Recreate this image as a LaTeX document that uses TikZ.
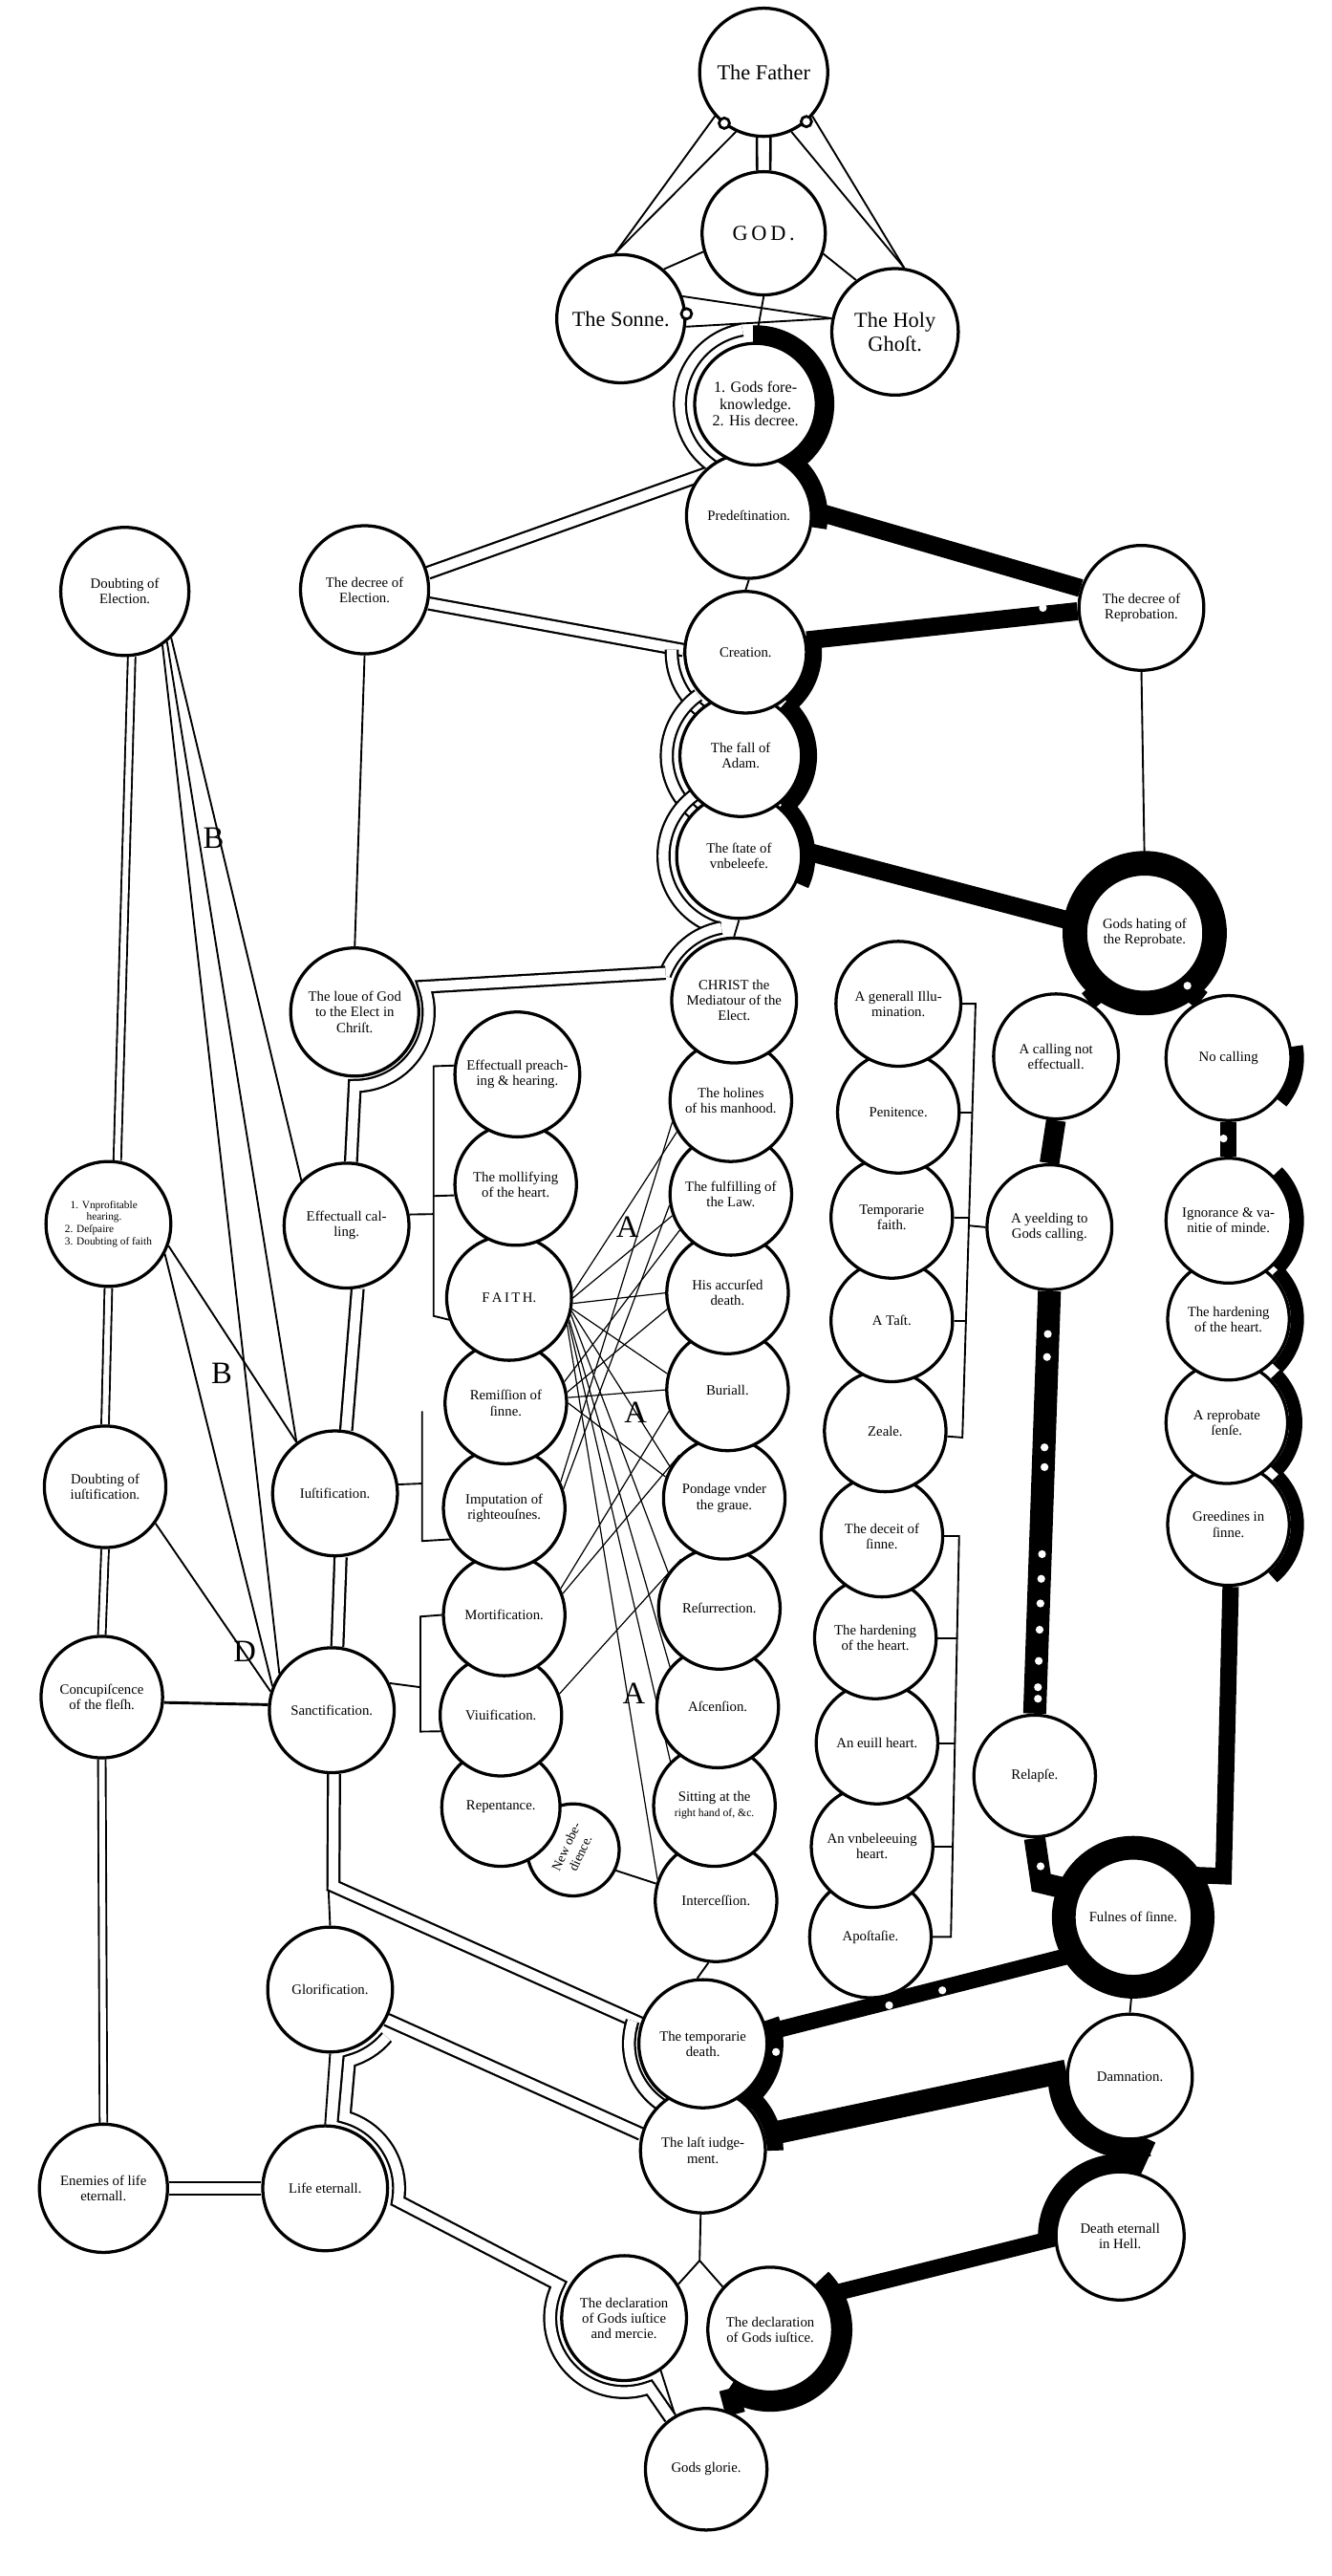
\documentclass[tikz,border=0pt]{standalone}
\usepackage{fontspec}
\setmainfont{Liberation Serif}
\usetikzlibrary{calc}
\pgfdeclarelayer{bg}
\pgfsetlayers{bg,main}
\newcommand{\ringarc}[5][]{\draw[#1] ($(#2.center)+(#3:#5)$) arc[start angle=#3,end angle=#4,radius=#5];}
\begin{document}
\begin{tikzpicture}[x=1pt,y=1pt,
  nd/.style={circle,draw,line width=1.9pt,fill=white,minimum size=#1,inner sep=0pt,align=center,font=\fontsize{8.6}{9.4}\selectfont},
  nd/.default=74pt,
  ln/.style={line width=1.1pt},
  web/.style={line width=0.7pt},
  hol/.style={line width=1.3pt,double=white,double distance=6pt},
  holt/.style={line width=1.1pt,double=white,double distance=3.5pt},
  blk/.style={line width=10pt},
  lab/.style={font=\fontsize{19}{19}\selectfont,inner sep=0pt},
  dot/.style={fill=white}]
\useasboundingbox (0,0) rectangle (811,-1568);

% ---------- nodes (lower ones first, so upper circles lie on top) ----------
\node[nd] (glorie) at (430,-1503) {Gods glorie.};
\node[nd=76pt] (declJ) at (469,-1418) {The declaration\\of Gods iuſtice.};
\node[nd=76pt] (declM) at (380,-1411) {The declaration\\of Gods iuſtice\\and mercie.};
\node[nd=78pt] (deathE) at (682,-1361) {Death eternall\\in Hell.};
\node[nd=78pt] (enem) at (63,-1332) {Enemies of life\\eternall.};
\node[nd=76pt] (life) at (198,-1332) {Life eternall.};
\node[nd=76pt] (ljudg) at (428,-1309) {The laſt iudge-\\ment.};
\node[nd=76pt] (damn) at (688,-1264) {Damnation.};
\node[nd=78pt] (tdeath) at (428,-1244) {The temporarie\\death.};
\node[nd=76pt] (glor) at (201,-1211) {Glorification.};
\node[nd] (apost) at (530,-1179) {Apoſtaſie.};
\node[nd=72pt] (fulnes) at (690,-1167) {Fulnes of ſinne.};
\node[nd] (inter) at (436,-1157) {Interceſſion.};
\node[nd=56pt,rotate=65,font=\fontsize{8}{9.5}\selectfont] (newob) at (349,-1126) {New obe-\\dience.};
\node[nd] (vnbel) at (531,-1124) {An vnbeleeuing\\heart.};
\node[nd=72pt] (repen) at (305,-1100) {Repentance.};
\node[nd] (sit) at (435,-1099) {Sitting at the\\{\fontsize{6.8}{7.5}\selectfont right hand of, \&c.}};
\node[nd] (relap) at (630,-1081) {Relapſe.};
\node[nd] (euill) at (534,-1061) {An euill heart.};
\node[nd] (viuif) at (305,-1044) {Viuification.};
\node[nd=76pt] (sanct) at (202,-1041) {Sanctification.};
\node[nd] (ascen) at (437,-1039) {Aſcenſion.};
\node[nd] (concup) at (62,-1033) {Concupiſcence\\of the fleſh.};
\node[nd] (hard2) at (533,-997) {The hardening\\of the heart.};
\node[nd] (mort) at (307,-983) {Mortification.};
\node[nd] (resur) at (438,-979) {Reſurrection.};
\node[nd] (deceit) at (537,-935) {The deceit of\\ſinne.};
\node[nd] (greed) at (748,-928) {Greedines in\\ſinne.};
\node[nd] (imput) at (307,-918) {Imputation of\\righteouſnes.};
\node[nd] (pond) at (441,-912) {Pondage vnder\\the graue.};
\node[nd=76pt] (iust) at (204,-909) {Iuſtification.};
\node[nd] (dJust) at (64,-905) {Doubting of\\iuſtification.};
\node[nd] (zeale) at (539,-871) {Zeale.};
\node[nd] (rsense) at (747,-866) {A reprobate\\ſenſe.};
\node[nd] (remis) at (308,-854) {Remiſſion of\\ſinne.};
\node[nd] (burial) at (443,-846) {Buriall.};
\node[nd] (tast) at (543,-804) {A Taſt.};
\node[nd] (hard1) at (748,-803) {The hardening\\of the heart.};
\node[nd=76pt] (faith) at (310,-790) {F\,A\,I\,T\,H.};
\node[nd] (death) at (443,-787) {His accurſed\\death.};
\node[nd=76pt] (ecall) at (211,-746) {Effectuall cal-\\ling.};
\node[nd=76pt,align=left,font=\fontsize{6.6}{7.4}\selectfont] (vnprof) at (66,-745) {\ \ 1. Vnprofitable\\\qquad hearing.\\ 2. Deſpaire\\ 3. Doubting of faith};
\node[nd=76pt] (yeeld) at (639,-747) {A yeelding to\\Gods calling.};
\node[nd=76pt] (ignor) at (748,-743) {Ignorance \& va-\\nitie of minde.};
\node[nd] (temp) at (543,-741) {Temporarie\\faith.};
\node[nd] (fulf) at (445,-727) {The fulfilling of\\the Law.};
\node[nd] (moll) at (314,-721) {The mollifying\\of the heart.};
\node[nd] (penit) at (547,-677) {Penitence.};
\node[nd] (holy) at (445,-670) {The holines\\of his manhood.};
\node[nd=76pt] (preach) at (315,-654) {Effectuall preach-\\ing \& hearing.};
\node[nd=76pt] (nocall) at (748,-644) {No calling};
\node[nd=76pt] (ncall) at (643,-643) {A calling not\\effectuall.};
\node[nd=78pt] (love) at (216,-616) {The loue of God\\to the Elect in\\Chriſt.};
\node[nd=76pt] (illum) at (547,-611) {A generall Illu-\\mination.};
\node[nd=76pt] (christ) at (447,-609) {CHRIST the\\Mediatour of the\\Elect.};
\node[nd=72pt] (hate) at (697,-568) {Gods hating of\\the Reprobate.};
\node[nd=76pt] (state) at (450,-521) {The ſtate of\\vnbeleefe.};
\node[nd] (fall) at (451,-460) {The fall of\\Adam.};
\node[nd] (creat) at (454,-397) {Creation.};
\node[nd=76pt] (repro) at (695,-370) {The decree of\\Reprobation.};
\node[nd=78pt] (elec) at (222,-359) {The decree of\\Election.};
\node[nd=78pt] (dElec) at (76,-360) {Doubting of\\Election.};
\node[nd=76pt] (pred) at (456,-314) {Predeſtination.};
\node[nd,font=\fontsize{9.4}{10.2}\selectfont] (fk) at (460,-246) {1. Gods fore-\\knowledge.\\2. His decree.};
\node[nd=77pt,font=\fontsize{13}{14.5}\selectfont] (ghost) at (545,-202) {The Holy\\Ghoſt.};
\node[nd=78pt,font=\fontsize{13}{14.5}\selectfont] (sonne) at (378,-194) {The Sonne.};
\node[nd=75pt,font=\fontsize{13}{14.5}\selectfont] (god) at (465,-142) {G\,O\,D\,.};
\node[nd=78pt,font=\fontsize{13}{14.5}\selectfont] (father) at (465,-44) {The Father};

% ---------- letters ----------
\node[lab] (B1) at (130,-510) {B};
\node[lab] (B2) at (135,-836) {B};
\node[lab] (D1) at (149,-1005) {D};
\node[lab] (A1) at (382,-747) {A};
\node[lab] (A2) at (387,-860) {A};
\node[lab] (A3) at (386,-1031) {A};

% ---------- bracket corners ----------
\coordinate (k1a) at (264,-739);
\coordinate (k1t) at (264,-649);
\coordinate (k1b) at (264,-801);
\coordinate (k1m) at (264,-728);
\coordinate (k2a) at (257,-903);
\coordinate (k2t) at (257,-859);
\coordinate (k2b) at (257,-938);
\coordinate (k3a) at (256,-1027);
\coordinate (k3t) at (256,-984);
\coordinate (k3b) at (256,-1054);
\coordinate (k4t) at (594,-611);
\coordinate (k4b) at (586,-875);
\coordinate (k4p) at (592,-677);
\coordinate (k4q) at (590,-741);
\coordinate (k4y) at (589.9,-746);
\coordinate (k4r) at (588.2,-804);
\coordinate (k5t) at (584,-935);
\coordinate (k5b) at (579,-1179);
\coordinate (k5p) at (582.7,-997);
\coordinate (k5q) at (581.4,-1061);
\coordinate (k5r) at (580.1,-1124);
\coordinate (fork) at (426,-1376);
\coordinate (sbend) at (203,-1148);
\coordinate (sglor) at (200,-1150);
\coordinate (gbend) at (745,-1142);
\coordinate (rbend) at (634,-1146);

\begin{pgfonlayer}{bg}
\fill[white] (0,0) rectangle (811,-1568);
% ---------- thin connectors ----------
\draw[ln] (father.222) -- (sonne.95);
\draw[ln] (father.245) -- (sonne.95);
\draw[ln] (father.318) -- (ghost.82);
\draw[ln] (father.295) -- (ghost.82);
\draw[ln] (god.197) -- (sonne.49);
\draw[ln] (god.341) -- (ghost.127);
\draw[ln] (sonne.20) -- (ghost.168);
\draw[ln] (sonne.353) -- (ghost.168);
\draw[ln,line width=1.5pt] (father.264) -- (god.96);
\draw[ln,line width=1.5pt] (father.276) -- (god.84);
\draw[ln] (god.south) -- (fk.north);
\draw[ln] (pred.south) -- (creat.north);
\draw[ln] (elec.south) -- (love.north);
\draw[ln] (state.south) -- (christ.north);
\draw[ln] (repro.south) -- (hate.north);
\draw[ln] (inter.-97) -- (tdeath.95);
\draw[ln] (fulnes.south) -- (damn.north);
\draw[ln] (ljudg.-92) -- (fork) -- (declM.32);
\draw[ln] (fork) -- (declJ.138);
\draw[ln] (declM.-55) -- (glorie.120);
\draw[ln] ($(newob.center)+(-26:28)$) -- (inter.164);
\draw[ln] (glor.north) -- (sglor);
\draw[ln] (glor.south) -- (life.north);
% left fan
\draw[ln] (dElec.-45) -- (ecall.135);
\draw[ln] (dElec.-50) -- (iust.127);
\draw[ln] (dElec.-55) -- (sanct.145);
\draw[ln] (vnprof.-20) -- (iust.127);
\draw[ln] (vnprof.-28) -- (sanct.158);
\draw[ln] (dJust.-36) -- (sanct.163);
\draw[ln,line width=1.7pt] (concup.-5) -- (sanct.175);
% brackets
\draw[ln] (ecall.10) -- (k1a);
\draw[ln] (preach.172) -- (k1t) -- (k1b) -- (faith.200);
\draw[ln] (k1m) -- (moll.190);
\draw[ln] (iust.8) -- (k2a);
\draw[ln] (k2t) -- (k2b) -- (imput.210);
\draw[ln] (sanct.25) -- (k3a);
\draw[ln] (mort.180) -- (k3t) -- (k3b) -- (viuif.195);
\draw[ln] (illum.0) -- (k4t) -- (k4b) -- (zeale.-5);
\draw[ln] (penit.0) -- (k4p);
\draw[ln] (temp.0) -- (k4q);
\draw[ln] (tast.0) -- (k4r);
\draw[ln] (k4y) -- (yeeld.180);
\draw[ln] (deceit.0) -- (k5t) -- (k5b) -- (apost.0);
\draw[ln] (hard2.0) -- (k5p);
\draw[ln] (euill.0) -- (k5q);
\draw[ln] (vnbel.0) -- (k5r);
% web of faith
\foreach \s/\t in {faith.5/holy.210, faith.0/fulf.200, faith.-5/death.180, faith.-10/burial.165,
  faith.-12/pond.150, faith.-15/resur.145, faith.-20/ascen.140, faith.-22/sit.135, faith.-25/inter.160,
  remis.20/fulf.215, remis.10/death.195, remis.5/burial.180, remis.0/pond.160,
  imput.25/holy.200, imput.18/fulf.190, mort.25/burial.200, mort.20/pond.136, viuif.20/resur.128}
  \draw[web] (\s) -- (\t);

% ---------- black (reprobate) way ----------
\ringarc[blk,line width=11pt]{fk}{92}{-70}{42.5}
\ringarc[blk,line width=11pt]{pred}{75}{-10}{42.5}
\draw[blk,line width=11pt] (pred.5) -- (repro.162);
\draw[blk,line width=11pt] (repro.183) -- (creat.11);
\ringarc[blk,line width=9pt]{creat}{15}{-50}{42}
\ringarc[blk,line width=9pt]{fall}{50}{-50}{42}
\ringarc[blk,line width=9pt]{state}{50}{-25}{42}
\draw[blk,line width=11pt] (state.5) -- (hate.172);
\draw[line width=14pt] (hate.center) circle (43);
\draw[blk,line width=12pt] (hate.235) -- (ncall.60);
\draw[blk,line width=12pt] (hate.305) -- (nocall.115);
\draw[blk,line width=12pt] (ncall.south) -- (yeeld.north);
\draw[blk] (nocall.south) -- (ignor.north);
\ringarc[blk,line width=8pt]{nocall}{10}{-40}{42}
\ringarc[blk,line width=8pt]{ignor}{45}{-45}{42}
\ringarc[blk,line width=8pt]{hard1}{45}{-45}{42}
\ringarc[blk,line width=8pt]{rsense}{45}{-45}{42}
\ringarc[blk,line width=8pt]{greed}{45}{-50}{42}
\draw[blk] (greed.-88) -- (gbend) -- (fulnes.45);
\draw[blk,line width=14pt] (yeeld.south) -- (relap.north);
\draw[blk,line width=13pt] (relap.south) -- (rbend) -- (fulnes.155);
\draw[line width=13pt] (fulnes.center) circle (43);
\draw[blk] (fulnes.215) -- (tdeath.10);
\ringarc[blk]{tdeath}{20}{-60}{44}
\ringarc[blk]{ljudg}{60}{0}{44}
\draw[blk,line width=14pt] (damn.175) -- (ljudg.14);
\ringarc[blk,line width=12pt]{damn}{185}{285}{44}
\draw[blk,line width=12pt] (damn.285) -- (deathE.80);
\ringarc[blk,line width=12pt]{deathE}{80}{185}{44}
\draw[blk] (deathE.182) -- (declJ.32);
\ringarc[blk,line width=12pt]{declJ}{45}{-125}{44}
\draw[blk,line width=12pt] ($(declJ.center)+(-125:44)$) -- (glorie.62);

% white dots on the black way
\foreach \p in {(635,-370),(637.5,-547.6),(723,-600),(745,-693),
  (638,-812),(637.5,-826),(636,-881),(636,-893),(634.5,-946),(634,-961),(633.5,-976),
  (633,-992),(632.5,-1011),(632,-1027),(632,-1034),(633.6,-1136),
  (541.4,-1220.6),(573.8,-1211.5),(472.5,-1249)}
  \fill[dot] \p circle (2.4);

% ---------- hollow (elect) way ----------
\draw[hol] (elec.15) -- (437,-285.8) arc[start angle=240,end angle=100,radius=46];
\draw[hol] (elec.-12) -- (creat.178);
\ringarc[hol]{creat}{178}{235}{45}
\ringarc[hol]{fall}{125}{235}{45}
\ringarc[hol]{state}{125}{255}{46}
\ringarc[hol]{christ}{100}{160}{45}
\draw[hol] ($(christ.center)+(158:45)$) -- ($(love.center)+(20:45)$) arc[start angle=20,end angle=-90,radius=45] -- (ecall.86);
\draw[hol] (ecall.-80) -- (iust.80);
\draw[hol] (iust.-85) -- (sanct.85);
\draw[hol] (sanct.-88) -- (sbend) -- (tdeath.162);
\ringarc[hol]{tdeath}{162}{245}{45}
\draw[hol] (glor.-28) -- (ljudg.165);
\draw[hol] ($(glor.center)+(-40:45)$) arc[start angle=-40,end angle=-75,radius=45] -- ($(life.center)+(75:45)$) arc[start angle=75,end angle=-10,radius=45] -- ($(declM.center)+(153:45)$) arc[start angle=153,end angle=290,radius=45] -- (glorie.125);
\draw[hol] (enem.east) -- (life.west);
\draw[holt] (dElec.-84) -- (vnprof.82);
\draw[holt] (vnprof.south) -- (dJust.north);
\draw[holt] (dJust.south) -- (concup.north);
\draw[holt] (concup.south) -- (enem.north);
\end{pgfonlayer}

% small hooks of the Trinity
\draw[line width=1.6pt,fill=white] (441,-75) circle (3.2);
\draw[line width=1.6pt,fill=white] (491,-74) circle (3.2);
\draw[line width=1.6pt,fill=white] (418,-191) circle (3.2);
\end{tikzpicture}
\end{document}
